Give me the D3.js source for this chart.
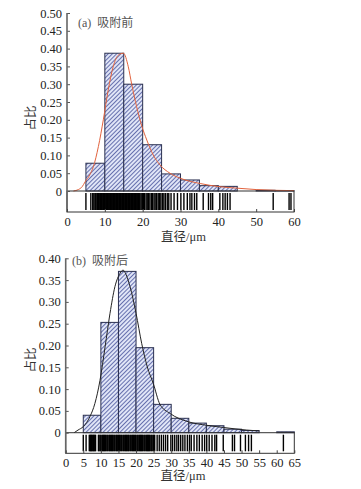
<!DOCTYPE html>
<html><head><meta charset="utf-8">
<script src="https://cdn.jsdelivr.net/npm/d3@7"></script>
<style>
html,body{margin:0;padding:0;background:#fff;}
svg{display:block;}
text{font-family:"Liberation Serif","Noto Sans CJK SC",serif;}
</style></head>
<body>
<svg id="c" width="361" height="489"></svg>
<script>
// ---------- data ----------
const binEdgesA = [5,10,15,20,25,30,35,40,45,50,55];
const barValuesA = [0.078,0.387,0.300,0.130,0.048,0.031,0.015,0.013,0,0.002,0.001];
const yTicksA = [0,0.05,0.10,0.15,0.20,0.25,0.30,0.35,0.40,0.45,0.50];
const xTicksA = [0,10,20,30,40,50,60];
const curveAx = [1.7,3,4,4.8,6,6.96,8.3,9.6,10.9,12.2,13.6,14.9,16.2,17.1,18.4,19.7,21.1,22.8,24.6,27.2,29.9,35.2,40.4,44.9,50,55,60];
const curveAy = [0,0.004,0.012,0.026,0.045,0.068,0.125,0.2,0.284,0.349,0.382,0.387,0.349,0.30,0.237,0.185,0.143,0.101,0.073,0.05,0.036,0.021,0.012,0.008,0.004,0.002,0.001];
const rugA = [5.0,6.3,6.8,7.1,7.4,7.6,7.9,8.1,8.3,8.5,8.7,8.9,9.1,9.3,9.5,9.7,9.9,10.1,10.3,10.5,10.7,10.9,11.1,11.3,11.5,11.7,11.9,12.1,12.3,12.5,12.7,12.9,13.1,13.3,13.5,13.7,13.9,14.1,14.3,14.5,14.7,14.9,15.1,15.3,15.5,15.7,15.9,16.1,16.3,16.5,16.7,16.9,17.1,17.3,17.5,17.7,17.9,18.1,18.3,18.5,18.7,18.9,19.1,19.3,19.6,19.9,20.2,20.5,20.9,21.2,21.5,21.9,22.3,22.6,23.0,23.3,23.7,24.1,24.4,24.8,25.2,25.6,26.0,26.5,26.9,27.5,28.3,29.2,30.1,30.9,31.8,32.5,33.0,33.7,34.3,36.0,37.4,38.0,38.5,40.4,41.2,41.8,42.4,43.1,54.5,58.7,59.2];

const binEdgesB = [5,10,15,20,25,30,35,40,45,50,55,60];
const barValuesB = [0.040,0.253,0.370,0.195,0.065,0.033,0.022,0.016,0.008,0.005,0,0.002];
const yTicksB = [0,0.05,0.10,0.15,0.20,0.25,0.30,0.35,0.40];
const xTicksB = [0,5,10,15,20,25,30,35,40,45,50,55,60,65];
const curveBx = [2.4,3.5,5.0,6.9,8.3,9.75,11.2,12.6,14.0,15.5,16.3,17.2,18.3,20.0,21.6,23.2,24.9,26.8,29.7,34.9,40.1,44.8,51.5,55];
const curveBy = [0,0.006,0.014,0.037,0.067,0.12,0.197,0.274,0.335,0.366,0.373,0.362,0.335,0.274,0.205,0.151,0.113,0.065,0.044,0.025,0.017,0.012,0.006,0.004];
const rugB = [5.0,5.8,6.7,6.9,7.1,7.3,7.5,7.7,7.9,8.1,8.3,8.5,9.3,9.5,9.8,10.0,10.3,10.5,10.8,11.0,11.3,11.5,11.8,12.0,12.3,12.5,12.8,13.0,13.3,13.5,13.8,14.0,14.3,14.5,14.8,15.0,15.3,15.5,15.8,16.0,16.3,16.5,16.8,17.0,17.3,17.5,17.8,18.0,18.3,18.5,18.8,19.0,19.3,19.5,19.8,20.0,20.3,20.5,20.8,21.0,21.3,21.5,21.8,22.0,22.3,22.5,22.8,23.0,23.3,23.5,23.8,24.0,24.3,24.5,24.8,25.0,25.3,26.0,26.6,27.2,27.8,28.4,29.0,29.9,30.4,31.0,31.6,32.1,32.7,33.3,33.9,34.6,35.2,35.7,36.5,37.3,38.0,38.8,39.5,40.1,40.8,41.6,42.4,42.9,44.8,47.4,48.0,49.7,51.1,52.0,52.8,61.9];

const titleA = "(a)  吸附前", titleB = "(b)  吸附后";
const xLabel = "直径/μm", yLabel = "占比";

// ---------- drawing ----------
const svg = d3.select("#c");
const defs = svg.append("defs");
const pat = defs.append("pattern").attr("id","hatch").attr("patternUnits","userSpaceOnUse")
  .attr("width",3).attr("height",3).attr("patternTransform","rotate(45)");
pat.append("rect").attr("width",3).attr("height",3).attr("fill","#e0e5f7");
pat.append("line").attr("x1",0.5).attr("y1",0).attr("x2",0.5).attr("y2",3)
  .attr("stroke","#5863a6").attr("stroke-width",0.9);

function panel(o){
  const x = d3.scaleLinear().domain(o.xDomain).range([o.left,o.right]);
  const y = d3.scaleLinear().domain(o.yDomain).range([o.base,o.top]);
  const g = svg.append("g");
  const bars = o.edges.map((e,i)=>({x0:e,x1:e+5,v:o.values[i]})).filter(d=>d.v>0);
  g.selectAll("rect.bar").data(bars).join("rect").attr("class","bar")
    .attr("x",d=>x(d.x0)).attr("width",d=>x(d.x1)-x(d.x0))
    .attr("y",d=>y(d.v)).attr("height",d=>y(0)-y(d.v))
    .attr("fill","url(#hatch)").attr("stroke","#2b3050").attr("stroke-width",1);
  const pts = o.cx.map((v,i)=>[v,o.cy[i]]);
  g.append("path").attr("d",d3.line().x(d=>x(d[0])).y(d=>y(d[1])).curve(d3.curveMonotoneX)(pts))
    .attr("fill","none").attr("stroke",o.curveColor).attr("stroke-width",1);
  g.append("rect").attr("x",o.left).attr("y",o.base).attr("width",o.right-o.left).attr("height",o.rugBottom-o.base)
    .attr("fill","none").attr("stroke","#333").attr("stroke-width",1);
  g.selectAll("line.rug").data(o.rug).join("line").attr("class","rug")
    .attr("x1",d=>x(d)).attr("x2",d=>x(d)).attr("y1",o.base+2).attr("y2",o.rugBottom-2)
    .attr("stroke","#000").attr("stroke-width",1.4);
  const ya = d3.axisLeft(y).tickValues(o.yTicks).tickSize(-3).tickPadding(5)
    .tickFormat(d=>d===0?"0":d3.format(".2f")(d));
  const yg = g.append("g").attr("transform",`translate(${o.left},0)`).call(ya);
  yg.select(".domain").remove();
  yg.selectAll("line").attr("stroke","#555");
  yg.selectAll("text").attr("font-size",12.5).attr("fill","#222");
  g.append("line").attr("x1",o.left).attr("x2",o.left).attr("y1",o.top).attr("y2",o.rugBottom)
    .attr("stroke","#666").attr("stroke-width",1.6);
  const xa = d3.axisBottom(x).tickValues(o.xTicks).tickSize(-3).tickPadding(5);
  const xg = g.append("g").attr("transform",`translate(0,${o.rugBottom})`).call(xa);
  xg.select(".domain").remove();
  xg.selectAll("line").attr("stroke","#444");
  xg.selectAll("text").attr("font-size",12.5).attr("fill","#222");
  g.append("text").attr("x",o.titleX).attr("y",o.titleY).attr("font-size",12).attr("fill","#555")
    .attr("xml:space","preserve").style("white-space","pre").text(o.title);
  g.append("text").attr("x",(o.left+o.right)/2+3).attr("y",o.xLabY).attr("text-anchor","middle")
    .attr("font-size",12.5).attr("fill","#333").text(xLabel);
  g.append("text").attr("transform",`translate(${o.yLabX},${o.yLabY}) rotate(-90)`).attr("text-anchor","middle")
    .attr("font-size",12.5).attr("fill","#333").text(yLabel);
}

panel({xDomain:[0,60],yDomain:[0,0.5],left:67,right:294,base:191,top:13,rugBottom:212,
  edges:binEdgesA,values:barValuesA,cx:curveAx,cy:curveAy,curveColor:"#e2633e",rug:rugA,
  yTicks:yTicksA,xTicks:xTicksA,title:titleA,titleX:78,titleY:27,xLabY:241,yLabX:35,yLabY:118});
panel({xDomain:[0,65],yDomain:[0,0.4],left:65.7,right:294.3,base:432.7,top:258.3,rugBottom:453.3,
  edges:binEdgesB,values:barValuesB,cx:curveBx,cy:curveBy,curveColor:"#222",rug:rugB,
  yTicks:yTicksB,xTicks:xTicksB,title:titleB,titleX:72,titleY:265,xLabY:480,yLabX:35,yLabY:360});
</script>
</body></html>
